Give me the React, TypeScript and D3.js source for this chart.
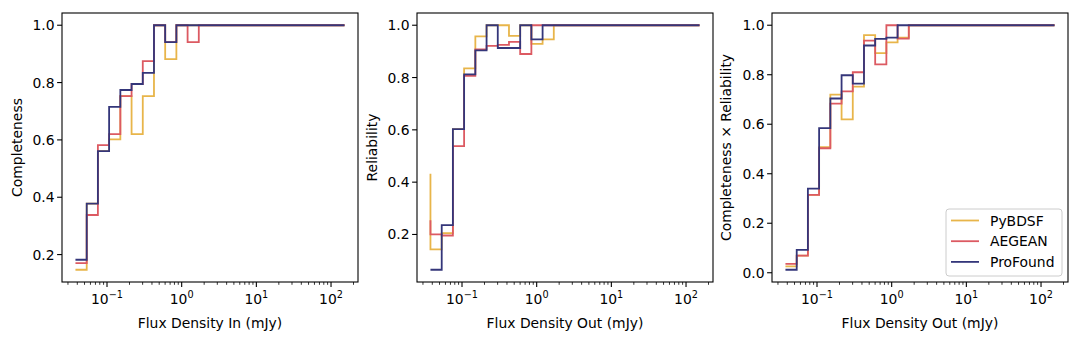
import React from 'react';
import * as d3 from 'd3';

// bin edges in mJy (log spaced)
const binEdges = [
  0.0378, 0.0535, 0.0755, 0.1067, 0.1509, 0.2133, 0.3013, 0.4256, 0.6012, 0.8492,
  1.2, 1.695, 2.396, 3.386, 4.785, 6.76, 9.55, 13.5, 19.1, 26.97,
  38.1, 53.8, 76.0, 107.4, 151.7,
];

const seriesNames = ['PyBDSF', 'AEGEAN', 'ProFound'];
const seriesColors = ['#e8b54a', '#dc5a62', '#34367a'];

// completeness (vs flux in)
const pybdsfCompleteness = [0.147, 0.147, 0.378, 0.561, 0.602, 0.753, 0.62, 0.753, 1.0, 0.882, 1, 1, 1, 1, 1, 1, 1, 1, 1, 1, 1, 1, 1, 1, 1];
const aegeanCompleteness = [0.17, 0.17, 0.338, 0.582, 0.62, 0.753, 0.795, 0.875, 1.0, 0.941, 1, 0.941, 1, 1, 1, 1, 1, 1, 1, 1, 1, 1, 1, 1, 1];
const profoundCompleteness = [0.182, 0.182, 0.378, 0.561, 0.715, 0.774, 0.795, 0.834, 1.0, 0.941, 1, 1, 1, 1, 1, 1, 1, 1, 1, 1, 1, 1, 1, 1, 1];

// reliability (vs flux out)
const pybdsfReliability = [0.432, 0.143, 0.205, 0.603, 0.835, 0.957, 1.0, 1.0, 0.959, 1.0, 0.929, 0.946, 1, 1, 1, 1, 1, 1, 1, 1, 1, 1, 1, 1, 1];
const aegeanReliability = [0.254, 0.2, 0.196, 0.538, 0.806, 0.908, 0.921, 0.925, 0.936, 0.89, 1.0, 1, 1, 1, 1, 1, 1, 1, 1, 1, 1, 1, 1, 1, 1];
const profoundReliability = [0.065, 0.065, 0.236, 0.603, 0.812, 0.904, 1.0, 0.913, 0.913, 1.0, 0.946, 1, 1, 1, 1, 1, 1, 1, 1, 1, 1, 1, 1, 1, 1];

// completeness x reliability (vs flux out)
const pybdsfProduct = [0.026, 0.026, 0.069, 0.315, 0.507, 0.72, 0.62, 0.752, 0.96, 0.887, 0.931, 0.95, 1, 1, 1, 1, 1, 1, 1, 1, 1, 1, 1, 1, 1];
const aegeanProduct = [0.036, 0.036, 0.069, 0.315, 0.503, 0.683, 0.733, 0.81, 0.938, 0.842, 1.0, 0.946, 1, 1, 1, 1, 1, 1, 1, 1, 1, 1, 1, 1, 1];
const profoundProduct = [0.012, 0.012, 0.092, 0.34, 0.584, 0.704, 0.798, 0.764, 0.918, 0.945, 0.95, 1, 1, 1, 1, 1, 1, 1, 1, 1, 1, 1, 1, 1, 1];

const panels = [
  { left: 62, ylabel: 'Completeness', xlabel: 'Flux Density In (mJy)', series: [pybdsfCompleteness, aegeanCompleteness, profoundCompleteness], yTicks: [0.2, 0.4, 0.6, 0.8, 1.0] },
  { left: 417, ylabel: 'Reliability', xlabel: 'Flux Density Out (mJy)', series: [pybdsfReliability, aegeanReliability, profoundReliability], yTicks: [0.2, 0.4, 0.6, 0.8, 1.0] },
  { left: 772, ylabel: 'Completeness \u00d7 Reliability', xlabel: 'Flux Density Out (mJy)', series: [pybdsfProduct, aegeanProduct, profoundProduct], yTicks: [0.0, 0.2, 0.4, 0.6, 0.8, 1.0] },
];

const W = 296;
const TOP = 13;
const BOTTOM = 282;
const FONT = '"DejaVu Sans", sans-serif';
const FS = 13.9;

function Panel({ p, legend }: { p: typeof panels[0]; legend: boolean }) {
  const lo = Math.log10(binEdges[0]);
  const hi = Math.log10(binEdges[binEdges.length - 1]);
  const xpad = (hi - lo) * 0.05;
  const x = d3.scaleLog().domain([10 ** (lo - xpad), 10 ** (hi + xpad)]).range([0, W]);

  const all = p.series.flat();
  const ymin = d3.min(all)!;
  const ymax = d3.max(all)!;
  const ypad = (ymax - ymin) * 0.05;
  const y = d3.scaleLinear().domain([ymin - ypad, ymax + ypad]).range([BOTTOM - TOP, 0]);

  const line = d3
    .line<number>()
    .x((_, i) => x(binEdges[i]))
    .y((d) => y(d))
    .curve(d3.curveStepBefore);

  const majors = [-1, 0, 1, 2];
  const minors: number[] = [];
  for (let k = -2; k <= 2; k++) {
    for (let m = 2; m <= 9; m++) {
      const v = m * 10 ** k;
      if (v >= x.domain()[0] && v <= x.domain()[1]) minors.push(v);
    }
  }
  const h = BOTTOM - TOP;

  return (
    <g transform={`translate(${p.left},${TOP})`}>
      {p.series.map((s, i) => (
        <path key={i} d={line(s)!} fill="none" stroke={seriesColors[i]} strokeWidth={1.8} strokeLinejoin="miter" />
      ))}
      <rect x={0} y={0} width={W} height={h} fill="none" stroke="#000" strokeWidth={1.1} />
      {minors.map((v, i) => (
        <line key={i} x1={x(v)} x2={x(v)} y1={h} y2={h + 2.8} stroke="#000" strokeWidth={0.8} />
      ))}
      {majors.map((k) => (
        <g key={k} transform={`translate(${x(10 ** k)},${h})`}>
          <line y1={0} y2={4.9} stroke="#000" strokeWidth={1.1} />
          <text y={22} textAnchor="middle" fontFamily={FONT} fontSize={FS} fill="#000">
            10<tspan fontSize={9.7} dy={-6}>{k < 0 ? `\u2212${-k}` : `${k}`}</tspan>
          </text>
        </g>
      ))}
      {p.yTicks.map((t) => (
        <g key={t} transform={`translate(0,${y(t)})`}>
          <line x1={0} x2={-4.9} stroke="#000" strokeWidth={1.1} />
          <text x={-7.5} dy="0.36em" textAnchor="end" fontFamily={FONT} fontSize={FS} fill="#000">
            {d3.format('.1f')(t)}
          </text>
        </g>
      ))}
      <text x={W / 2} y={h + 46} textAnchor="middle" fontFamily={FONT} fontSize={FS} fill="#000">
        {p.xlabel}
      </text>
      <text
        transform={`translate(${p.yTicks[0] === 0 ? -41 : -40},${h / 2}) rotate(-90)`}
        textAnchor="middle"
        fontFamily={FONT}
        fontSize={FS}
        fill="#000"
      >
        {p.ylabel}
      </text>
      {legend && (
        <g transform={`translate(${W - 122},${h - 73})`}>
          <rect x={0} y={0} width={116} height={67} rx={3} fill="#fff" fillOpacity={0.8} stroke="#cccccc" strokeWidth={1} />
          {seriesNames.map((n, i) => (
            <g key={n} transform={`translate(0,${11.5 + i * 20.7})`}>
              <line x1={5} x2={33} stroke={seriesColors[i]} strokeWidth={1.8} />
              <text x={44} dy="0.36em" fontFamily={FONT} fontSize={FS} fill="#000">
                {n}
              </text>
            </g>
          ))}
        </g>
      )}
    </g>
  );
}

export default function App() {
  return (
    <svg width={1082} height={340} style={{ display: 'block', position: 'absolute', left: 0, top: 0 }}>
      <rect width={1082} height={340} fill="#fff" />
      {panels.map((p, i) => (
        <Panel key={i} p={p} legend={i === 2} />
      ))}
    </svg>
  );
}
